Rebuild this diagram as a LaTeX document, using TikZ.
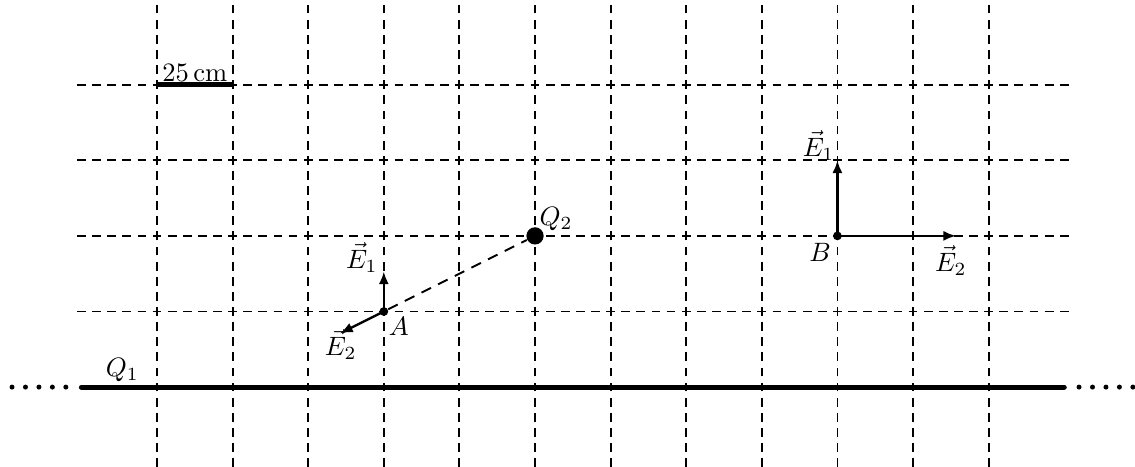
\documentclass[tikz,border=0pt]{standalone}
\usetikzlibrary{arrows.meta}
\begin{document}
\begin{tikzpicture}[x=1cm,y=1cm,
  gridline/.style={line width=0.7pt,dash pattern=on 3.3pt off 2.3906pt},
  vec/.style={line width=0.9pt,-{Latex[length=4.8pt,width=3.8pt]}},
  thickline/.style={line width=1.9pt,line cap=round},
  pt/.style={circle,fill=black,inner sep=0pt,minimum size=3.3pt},
  charge/.style={circle,fill=black,inner sep=0pt,minimum size=6.5pt}]
\useasboundingbox (-2.077,-1.045) rectangle (12.936,5.12);
% grid
\foreach \i in {0,...,11} \draw[gridline] (\i,-1.258) -- (\i,5.3);
\foreach \j in {1,...,4} \draw[gridline] (-1.058,\j) -- (12.06,\j);
% line charge Q1
\coordinate (L) at (-1,0);
\coordinate (R) at (12,0);
\draw[thickline] (L) -- (R);
\foreach \k in {0,...,4} {
  \fill (-1.918+0.178*\k,0) circle (0.033);
  \fill (12.196+0.178*\k,0) circle (0.033);
}
\node (q1) at (-0.46,0.22) {$Q_1$};
% scale bar
\coordinate (s1) at (0,4);
\coordinate (s2) at (1,4);
\draw[thickline,line cap=butt] (s1) -- (s2);
\node[above,inner sep=1pt] (sc) at (0.5,4) {$25\,\mathrm{cm}$};
% points
\node[charge] (Q2) at (5,2) {};
\node[anchor=south west,inner sep=1pt] (q2l) at (5.02,2.03) {$Q_2$};
\node[pt] (A) at (3,1) {};
\node[pt] (B) at (9,2) {};
\draw[line width=0.7pt,dash pattern=on 4pt off 3pt] (A) -- (Q2);
\coordinate (AE1) at (3,1.53);
\coordinate (AE2) at (2.42,0.71);
\draw[vec] (A.center) -- (AE1);
\draw[vec] (A.center) -- (AE2);
\node (aE1l) at (2.71,1.71) {$\vec{E}_1$};
\node (aE2l) at (2.43,0.56) {$\vec{E}_2$};
\node (al) at (3.2,0.8) {$A$};
\coordinate (BE1) at (9,3);
\coordinate (BE2) at (10.57,2);
\draw[vec] (B.center) -- (BE1);
\draw[vec] (B.center) -- (BE2);
\node (bl) at (8.77,1.78) {$B$};
\node (bE1l) at (8.75,3.2) {$\vec{E}_1$};
\node (bE2l) at (10.5,1.67) {$\vec{E}_2$};
\end{tikzpicture}
\end{document}
